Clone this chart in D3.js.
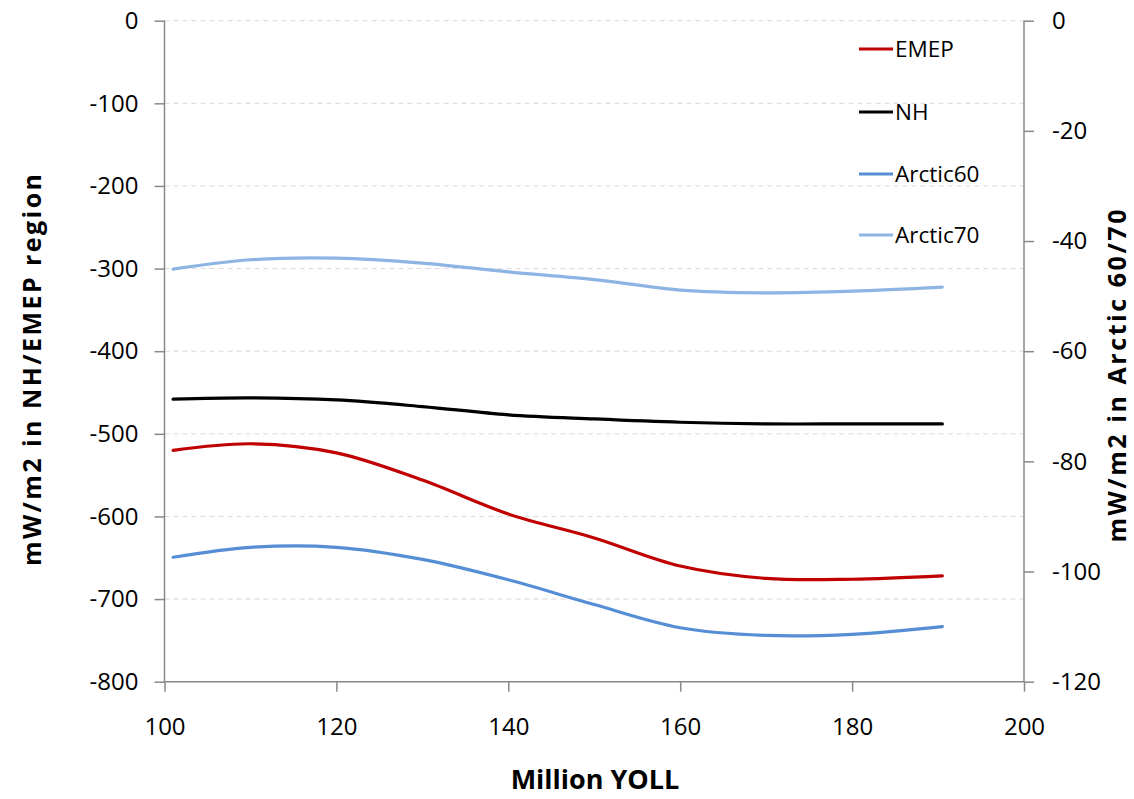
<!DOCTYPE html>
<html>
<head>
<meta charset="utf-8">
<script src="https://cdn.jsdelivr.net/npm/d3@7"></script>
<style>
  body { margin: 0; background: #fff; }
  text { font-family: "Open Sans", "Noto Sans", sans-serif; fill: #000; }
</style>
</head>
<body>
<svg id="chart" width="1134" height="799"></svg>
<script>
// ---- data ----
const xValues = [101, 110, 120, 130, 140, 150, 160, 170, 180, 190.5];
const emep = [-520, -512, -523, -556, -597, -626, -660, -675, -676, -672];
const nh = [-458, -456.5, -459, -467, -477, -482, -486, -488, -488, -488];
const arctic60 = [-97.4, -95.6, -95.6, -97.8, -101.5, -106, -110.2, -111.6, -111.4, -110.0];
const arctic70 = [-45.1, -43.4, -43.1, -44.0, -45.6, -47.0, -48.9, -49.4, -49.1, -48.35];
const seriesNames = ["EMEP", "NH", "Arctic60", "Arctic70"];
const seriesColors = ["#C00000", "#000000", "#558ED5", "#8EB4E3"];
const seriesAxis = ["left", "left", "right", "right"];
const xTicks = [100, 120, 140, 160, 180, 200];
const leftTicks = [0, -100, -200, -300, -400, -500, -600, -700, -800];
const rightTicks = [0, -20, -40, -60, -80, -100, -120];
const xTitle = "Million YOLL";
const leftTitle = "mW/m2 in NH/EMEP region";
const rightTitle = "mW/m2 in Arctic 60/70";

const seriesValues = [emep, nh, arctic60, arctic70];

// ---- layout ----
const svg = d3.select("#chart");
const plot = { left: 164.5, right: 1024, top: 20.7, bottom: 681.7 };

const x = d3.scaleLinear().domain([100, 200]).range([plot.left, plot.right]);
const yL = d3.scaleLinear().domain([-800, 0]).range([plot.bottom, plot.top]);
const yR = d3.scaleLinear().domain([-120, 0]).range([plot.bottom, plot.top]);

// gridlines
svg.append("g")
  .selectAll("line")
  .data(leftTicks.filter(d => d !== -800))
  .join("line")
  .attr("x1", plot.left).attr("x2", plot.right)
  .attr("y1", d => yL(d)).attr("y2", d => yL(d))
  .attr("stroke", "#d9d9d9").attr("stroke-width", 1)
  .attr("stroke-dasharray", "5,4");

// axes
const axisColor = "#888";
const fontSize = "24px";
const fmt = d => String(d);

const gL = svg.append("g").attr("transform", `translate(${plot.left},0)`)
  .call(d3.axisLeft(yL).tickValues(leftTicks).tickSize(10).tickPadding(16).tickFormat(fmt));
const gR = svg.append("g").attr("transform", `translate(${plot.right},0)`)
  .call(d3.axisRight(yR).tickValues(rightTicks).tickSize(10).tickPadding(18).tickFormat(fmt));
const gX = svg.append("g").attr("transform", `translate(0,${plot.bottom})`)
  .call(d3.axisBottom(x).tickValues(xTicks).tickSize(10).tickPadding(26).tickFormat(fmt));

[gL, gR, gX].forEach(g => {
  g.select(".domain").attr("stroke", axisColor).attr("stroke-width", 1.5);
  g.selectAll(".tick line").attr("stroke", axisColor).attr("stroke-width", 1.5);
  g.selectAll(".tick text").attr("font-size", fontSize)
    .attr("font-family", '"Open Sans", sans-serif').attr("fill", "#000");
});
gL.select(".domain").attr("d", `M0,${plot.top}V${plot.bottom}`);
gR.select(".domain").attr("d", `M0,${plot.top}V${plot.bottom}`);
gX.select(".domain").attr("d", `M${plot.left},0H${plot.right}`);

// lines
const pts = xValues.map((xv, i) => i);
seriesValues.forEach((vals, s) => {
  const yScale = seriesAxis[s] === "left" ? yL : yR;
  const line = d3.line()
    .x(i => x(xValues[i]))
    .y(i => yScale(vals[i]))
    .curve(d3.curveCatmullRom.alpha(0.5));
  svg.append("path")
    .attr("d", line(pts))
    .attr("fill", "none")
    .attr("stroke", seriesColors[s])
    .attr("stroke-width", 3.2)
    .attr("stroke-linecap", "round");
});

// legend
const legendY = [49, 112, 174, 235];
const lg = svg.append("g");
seriesNames.forEach((name, i) => {
  lg.append("line")
    .attr("x1", 859).attr("x2", 893).attr("y1", legendY[i]).attr("y2", legendY[i])
    .attr("stroke", seriesColors[i]).attr("stroke-width", 3.2);
  lg.append("text")
    .attr("x", 895).attr("y", legendY[i]).attr("dy", "0.35em")
    .attr("font-size", "22.5px").text(name);
});

// titles
svg.append("text")
  .attr("x", 595).attr("y", 789)
  .attr("text-anchor", "middle").attr("font-size", "27px").attr("font-weight", "bold")
  .text(xTitle);
svg.append("text")
  .attr("transform", `translate(41,370) rotate(-90)`)
  .attr("text-anchor", "middle").attr("font-size", "25px").attr("font-weight", "bold")
  .attr("textLength", 392).attr("lengthAdjust", "spacing")
  .text(leftTitle);
svg.append("text")
  .attr("transform", `translate(1126,376) rotate(-90)`)
  .attr("text-anchor", "middle").attr("font-size", "25px").attr("font-weight", "bold")
  .attr("textLength", 333).attr("lengthAdjust", "spacing")
  .text(rightTitle);
</script>
</body>
</html>
